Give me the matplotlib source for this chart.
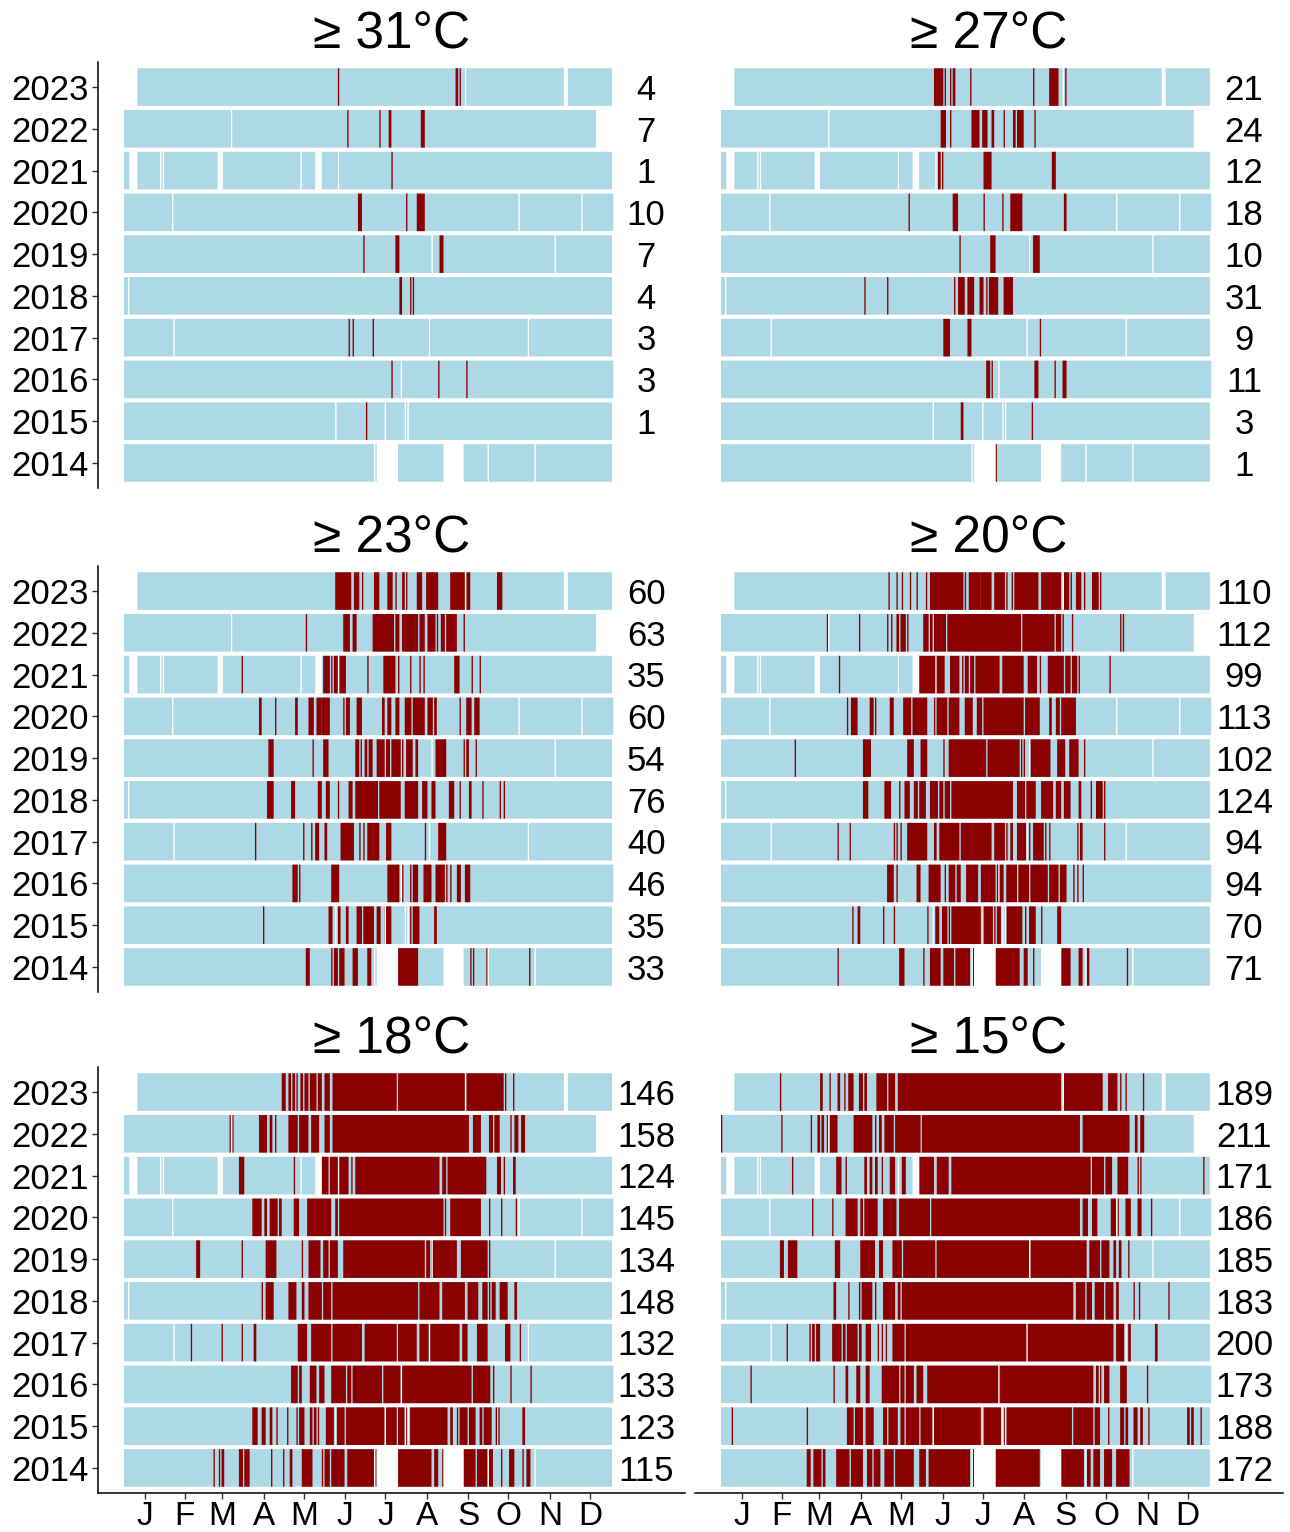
import numpy as np
import matplotlib
matplotlib.use("Agg")
import matplotlib.pyplot as plt

plt.rcParams['font.family'] = ['Liberation Sans', 'DejaVu Sans']

YEARS = list(range(2014, 2024))
MONTH_TICKS = [16, 46, 74, 105, 135, 166, 196, 227, 258, 288, 319, 349]
MONTH_LABELS = ["J", "F", "M", "A", "M", "J", "J", "A", "S", "O", "N", "D"]
TITLES = ["\u2265 31\u00b0C", "\u2265 27\u00b0C", "\u2265 23\u00b0C", "\u2265 20\u00b0C", "\u2265 18\u00b0C", "\u2265 15\u00b0C"]

# counts per year, 2014 -> 2023 (None = no label)
COUNTS_31 = [None, 1, 3, 3, 4, 7, 10, 1, 7, 4]
COUNTS_27 = [1, 3, 11, 9, 31, 10, 18, 12, 24, 21]
COUNTS_23 = [33, 35, 46, 40, 76, 54, 60, 35, 63, 60]
COUNTS_20 = [71, 70, 94, 94, 124, 102, 113, 99, 112, 110]
COUNTS_18 = [115, 123, 133, 132, 148, 134, 145, 124, 158, 146]
COUNTS_15 = [172, 188, 173, 200, 183, 185, 186, 171, 211, 189]

# days without data (day-of-year ranges, inclusive)
MISSING = {
    2023: [(1, 10), (256, 256), (330, 332)],
    2022: [(81, 81), (354, 365)],
    2021: [(5, 10), (28, 28), (30, 30), (71, 74), (133, 133), (144, 148), (161, 161)],
    2020: [(37, 37), (296, 296), (343, 343)],
    2019: [(231, 231), (323, 323)],
    2018: [(4, 4)],
    2017: [(38, 38), (229, 229), (303, 303)],
    2016: [(208, 208)],
    2015: [(159, 159), (196, 196), (211, 211), (213, 213)],
    2014: [(188, 188), (190, 205), (240, 254), (273, 273), (308, 308)],
}

# days at or above threshold (day-of-year ranges, inclusive)
RED_31 = {
    2023: [(161, 161), (249, 250), (252, 252)],
    2022: [(168, 168), (192, 192), (199, 200), (223, 225)],
    2021: [(201, 201)],
    2020: [(176, 178), (212, 212), (220, 225)],
    2019: [(180, 180), (204, 206), (237, 239)],
    2018: [(207, 208), (215, 215), (217, 217)],
    2017: [(169, 169), (172, 172), (187, 187)],
    2016: [(201, 201), (236, 236), (257, 257)],
    2015: [(182, 182)],
    2014: [],
}
RED_27 = {
    2023: [(160, 166), (168, 168), (172, 172), (174, 175), (187, 187), (234, 234), (246, 252), (258, 258)],
    2022: [(165, 168), (172, 172), (188, 193), (196, 199), (203, 204), (212, 212), (219, 220), (222, 226), (235, 235)],
    2021: [(163, 164), (166, 166), (197, 202), (248, 250)],
    2020: [(141, 141), (174, 177), (197, 197), (211, 211), (217, 225), (257, 258)],
    2019: [(179, 179), (202, 205), (234, 238)],
    2018: [(108, 108), (125, 125), (175, 175), (178, 182), (185, 189), (194, 196), (199, 199), (201, 207), (212, 218)],
    2017: [(167, 171), (185, 187), (239, 239)],
    2016: [(199, 201), (203, 203), (235, 237), (250, 250), (256, 258)],
    2015: [(180, 181), (233, 233)],
    2014: [(206, 206)],
}
RED_23 = {
    2023: [(159, 170), (173, 176), (179, 179), (188, 191), (198, 201), (204, 204), (209, 210), (212, 212),
           (220, 223), (227, 235), (245, 255), (257, 259), (280, 283)],
    2022: [(137, 137), (165, 169), (172, 174), (187, 202), (204, 206), (209, 217), (218, 220), (222, 225),
           (228, 233), (235, 235), (238, 240), (242, 249), (255, 255)],
    2021: [(89, 89), (150, 154), (156, 156), (158, 160), (162, 166), (183, 183), (195, 203), (206, 206),
           (215, 215), (222, 222), (225, 225), (248, 251), (261, 261), (267, 267)],
    2020: [(102, 103), (114, 114), (129, 130), (139, 142), (145, 148), (149, 154), (165, 165), (167, 169),
           (175, 178), (194, 195), (198, 200), (204, 206), (211, 215), (217, 225), (228, 231), (233, 234),
           (252, 252), (257, 260), (263, 266)],
    2019: [(109, 112), (142, 142), (150, 153), (174, 176), (178, 178), (181, 182), (184, 186), (190, 195),
           (197, 199), (201, 207), (209, 209), (212, 216), (219, 220), (234, 241), (255, 255), (257, 258), (264, 264)],
    2018: [(108, 112), (126, 128), (146, 148), (152, 154), (161, 161), (169, 171), (174, 190), (192, 207),
           (211, 220), (224, 227), (231, 233), (244, 247), (252, 252), (259, 260), (269, 269), (282, 282), (285, 285)],
    2017: [(99, 99), (135, 135), (141, 141), (144, 146), (151, 152), (163, 172), (177, 177), (180, 180),
           (183, 191), (197, 200), (226, 226), (236, 241)],
    2016: [(127, 130), (132, 132), (156, 161), (198, 206), (209, 209), (215, 215), (217, 220), (225, 230),
           (234, 240), (242, 242), (245, 245), (250, 252), (256, 259)],
    2015: [(105, 105), (154, 156), (161, 162), (167, 168), (175, 178), (180, 187), (190, 192), (196, 200),
           (215, 215), (217, 221), (233, 234)],
    2014: [(137, 139), (156, 156), (158, 160), (162, 165), (172, 175), (183, 185), (206, 220), (260, 260),
           (262, 262), (272, 272), (304, 304)],
}
RED_20 = {
    2023: [(126, 126), (132, 132), (136, 136), (142, 142), (147, 147), (154, 154), (157, 181), (183, 183),
           (186, 194), (195, 202), (205, 212), (214, 214), (218, 218), (220, 237), (240, 254), (257, 260),
           (262, 262), (266, 269), (272, 272), (278, 282), (284, 284)],
    2022: [(80, 80), (104, 104), (125, 125), (128, 128), (132, 133), (135, 138), (140, 140), (152, 155),
           (157, 158), (160, 168), (170, 224), (226, 249), (251, 254), (256, 256), (263, 263), (299, 299), (301, 301)],
    2021: [(89, 89), (148, 159), (160, 167), (172, 178), (181, 181), (183, 185), (187, 189), (191, 208),
           (211, 226), (230, 236), (239, 239), (245, 256), (258, 261), (263, 266), (268, 268), (291, 291)],
    2020: [(95, 95), (98, 102), (112, 114), (116, 116), (127, 129), (137, 142), (144, 154), (160, 160),
           (162, 169), (171, 178), (183, 188), (192, 195), (197, 226), (228, 238), (246, 247), (251, 253), (255, 265)],
    2019: [(56, 56), (107, 112), (140, 144), (150, 154), (167, 167), (171, 198), (200, 223), (225, 225),
           (227, 227), (232, 246), (252, 257), (261, 267), (272, 272)],
    2018: [(107, 110), (123, 127), (134, 134), (138, 141), (145, 147), (149, 153), (157, 162), (164, 166),
           (168, 171), (173, 218), (222, 227), (229, 235), (240, 248), (251, 254), (257, 261), (268, 269),
           (277, 277), (281, 285), (287, 287)],
    2017: [(88, 88), (97, 97), (130, 130), (132, 132), (135, 135), (140, 154), (160, 161), (164, 178),
           (180, 202), (205, 212), (214, 214), (217, 218), (222, 228), (231, 231), (234, 241), (243, 243),
           (246, 246), (267, 267), (269, 270), (287, 287)],
    2016: [(125, 129), (132, 132), (147, 149), (156, 164), (168, 168), (171, 175), (177, 179), (184, 192),
           (195, 205), (207, 211), (214, 221), (223, 230), (232, 244), (246, 252), (254, 258), (264, 264),
           (267, 267), (271, 271)],
    2015: [(99, 99), (103, 104), (122, 122), (130, 130), (155, 155), (161, 163), (166, 169), (171, 171),
           (173, 194), (196, 203), (205, 205), (207, 209), (214, 225), (228, 228), (231, 235), (240, 240), (252, 254)],
    2014: [(88, 88), (134, 137), (152, 152), (157, 164), (167, 174), (176, 186), (189, 189), (206, 223),
           (227, 229), (234, 234), (255, 261), (268, 270), (274, 275), (304, 304)],
}
RED_18 = {
    2023: [(119, 121), (124, 125), (127, 128), (130, 130), (133, 134), (136, 138), (140, 144), (146, 148),
           (151, 154), (157, 204), (206, 255), (257, 284), (286, 286), (292, 292)],
    2022: [(80, 80), (82, 82), (102, 107), (110, 111), (114, 114), (124, 130), (132, 138), (141, 146),
           (151, 154), (157, 258), (262, 267), (274, 276), (278, 281), (290, 290), (293, 295), (298, 300)],
    2021: [(87, 90), (128, 128), (148, 153), (155, 168), (171, 171), (174, 236), (239, 241), (243, 271),
           (280, 282), (285, 285), (292, 293)],
    2020: [(97, 103), (106, 107), (110, 115), (117, 118), (128, 131), (138, 155), (159, 160), (162, 239),
           (241, 241), (245, 267), (274, 274), (283, 283), (294, 294)],
    2019: [(55, 57), (89, 89), (107, 114), (134, 134), (139, 147), (150, 153), (155, 160), (165, 225),
           (227, 229), (231, 249), (253, 272), (274, 274)],
    2018: [(104, 104), (107, 112), (124, 129), (134, 135), (139, 148), (150, 155), (157, 220), (222, 236),
           (239, 255), (258, 265), (269, 272), (274, 274), (276, 278), (282, 287), (293, 294)],
    2017: [(51, 51), (74, 74), (89, 89), (98, 99), (131, 137), (141, 155), (157, 178), (181, 204),
           (206, 219), (222, 228), (230, 251), (254, 257), (265, 272), (286, 289), (297, 297)],
    2016: [(126, 130), (132, 133), (140, 144), (147, 150), (156, 166), (168, 170), (172, 193), (195, 207),
           (209, 260), (262, 274), (277, 277), (290, 290), (305, 305)],
    2015: [(97, 100), (104, 106), (110, 111), (115, 115), (123, 123), (130, 130), (132, 135), (140, 141),
           (143, 144), (146, 146), (152, 157), (160, 165), (167, 195), (197, 204), (206, 210), (212, 212),
           (215, 242), (245, 246), (250, 250), (252, 257), (259, 263), (267, 268), (270, 275), (279, 279),
           (281, 281), (299, 300)],
    2014: [(68, 68), (72, 72), (74, 75), (87, 89), (91, 94), (111, 111), (120, 120), (125, 126), (134, 141),
           (149, 149), (151, 154), (156, 165), (168, 187), (189, 189), (206, 230), (233, 235), (239, 239),
           (255, 263), (265, 272), (274, 276), (283, 283), (289, 292), (299, 299), (302, 304)],
}
RED_15 = {
    2023: [(45, 45), (75, 76), (82, 82), (88, 89), (93, 93), (96, 99), (104, 106), (108, 109), (117, 124),
           (126, 130), (133, 254), (257, 285), (290, 296), (299, 299), (303, 303), (316, 316)],
    2022: [(1, 1), (46, 46), (68, 68), (73, 74), (76, 77), (80, 80), (82, 87), (100, 113), (116, 116),
           (119, 120), (123, 129), (131, 149), (151, 268), (271, 305), (310, 311), (314, 316)],
    2021: [(54, 54), (87, 90), (94, 94), (108, 109), (112, 113), (116, 117), (121, 121), (127, 130),
           (136, 138), (149, 159), (161, 170), (173, 276), (278, 286), (288, 292), (297, 304), (312, 312),
           (314, 314), (361, 361)],
    2020: [(69, 69), (84, 84), (94, 102), (105, 106), (108, 117), (122, 131), (134, 156), (158, 268),
           (271, 274), (278, 281), (292, 295), (297, 297), (303, 306), (312, 314), (322, 322)],
    2019: [(45, 47), (51, 57), (86, 89), (105, 115), (119, 121), (129, 135), (137, 160), (162, 230),
           (232, 273), (276, 283), (285, 290), (294, 295), (298, 299), (305, 305)],
    2018: [(85, 86), (96, 96), (104, 104), (106, 113), (116, 116), (122, 130), (133, 134), (136, 263),
           (266, 272), (274, 277), (280, 286), (288, 293), (296, 297), (309, 309), (313, 313), (335, 335)],
    2017: [(50, 50), (67, 67), (69, 70), (72, 74), (84, 90), (92, 93), (95, 102), (104, 105), (109, 112),
           (118, 118), (121, 121), (124, 124), (129, 137), (139, 293), (296, 301), (305, 306), (325, 326)],
    2016: [(23, 23), (85, 85), (94, 95), (102, 104), (109, 111), (121, 133), (135, 137), (139, 144),
           (147, 151), (155, 278), (281, 282), (284, 284), (287, 290), (299, 303), (319, 319)],
    2015: [(9, 9), (65, 65), (95, 99), (101, 106), (109, 114), (122, 124), (126, 132), (135, 137), (139, 148),
           (150, 158), (160, 194), (196, 209), (212, 212), (214, 262), (264, 278), (280, 283), (290, 290),
           (299, 301), (303, 304), (309, 311), (314, 315), (320, 320), (349, 350), (352, 353), (359, 359)],
    2014: [(65, 67), (70, 75), (77, 78), (87, 96), (98, 106), (110, 113), (115, 119), (123, 129), (131, 144),
           (149, 153), (156, 186), (189, 189), (206, 238), (255, 271), (274, 276), (279, 283), (287, 292),
           (296, 305)],
}

PANELS = [(RED_31, COUNTS_31), (RED_27, COUNTS_27), (RED_23, COUNTS_23),
          (RED_20, COUNTS_20), (RED_18, COUNTS_18), (RED_15, COUNTS_15)]

COL_BELOW = "#ADD8E6"
COL_ABOVE = "#8B0000"


def n_days(year):
    return 366 if (year % 4 == 0) else 365


def to_ranges(intervals):
    return [(a - 0.5, b - a + 1) for a, b in intervals]


fig = plt.figure(figsize=(12.9, 15.32), dpi=100)
W, H = 1290.0, 1532.0
col_x = [(98, 685), (695, 1283)]
row_y = [(62, 488), (566, 992), (1067, 1493)]

for i, (red, counts) in enumerate(PANELS):
    r, c = divmod(i, 2)
    x0, x1 = col_x[c]
    y0, y1 = row_y[r]
    ax = fig.add_axes([x0 / W, 1 - y1 / H, (x1 - x0) / W, (y1 - y0) / H])
    for yr in YEARS:
        yb = (yr - 0.45, 0.9)
        ax.broken_barh([(0.5, n_days(yr))], yb, facecolors=COL_BELOW,
                       edgecolors="none", linewidth=0, snap=False)
        if red.get(yr):
            ax.broken_barh(to_ranges(red[yr]), yb, facecolors=COL_ABOVE,
                           edgecolors="none", linewidth=0, snap=False)
        ax.broken_barh(to_ranges(MISSING[yr]), (yr - 0.46, 0.92), facecolors="white",
                       edgecolors="none", linewidth=0, snap=False)
    for yr, cnt in zip(YEARS, counts):
        if cnt is not None:
            ax.text(391, yr - 0.08, str(cnt), ha="center", va="center", fontsize=25, color="black")
    ax.set_xlim(-18.9, 420.1)
    ax.set_ylim(2013.4, 2023.6)
    for s in ax.spines.values():
        s.set_visible(False)
    ax.set_yticks(YEARS)
    ax.set_xticks(MONTH_TICKS)
    if c == 0:
        ax.spines["left"].set_visible(True)
        ax.spines["left"].set_linewidth(1.1)
        ax.set_yticklabels([str(y) for y in YEARS], fontsize=25, color="black")
        ax.tick_params(axis="y", length=4, width=1.0, color="#333333", pad=3)
        for lab in ax.get_yticklabels():
            lab.set_verticalalignment("center_baseline")
    else:
        ax.set_yticklabels([])
        ax.tick_params(axis="y", length=0)
    if r == 2:
        ax.spines["bottom"].set_visible(True)
        ax.spines["bottom"].set_linewidth(1.1)
        ax.set_xticklabels(MONTH_LABELS, fontsize=24, color="black")
        ax.tick_params(axis="x", length=4, width=1.0, color="#333333", pad=1.5)
    else:
        ax.set_xticklabels([])
        ax.tick_params(axis="x", length=0)
    ax.text(0.5, 1 + 27 / 426, TITLES[i], transform=ax.transAxes, ha="center", va="center",
            fontsize=37, color="black")

fig.savefig("out.png", dpi=100)
